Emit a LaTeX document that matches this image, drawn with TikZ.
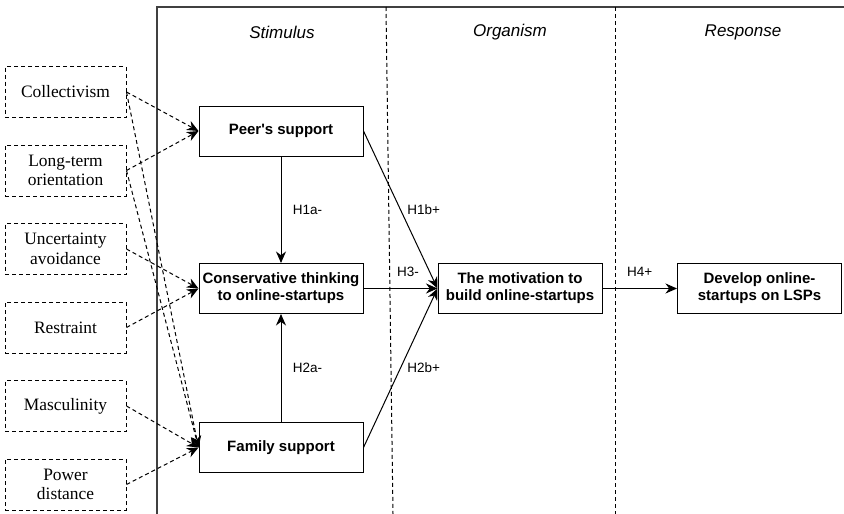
\documentclass[tikz,border=0pt]{standalone}
\usepackage{fontspec}
\setmainfont{Liberation Serif}
\setsansfont{Liberation Sans}
\usetikzlibrary{positioning, arrows.meta}
\tikzstyle{block} = [draw, fill=white, minimum width=164pt,
        minimum height=50pt, align=center,
        font=\sffamily\bfseries\fontsize{15}{17}\selectfont]
\tikzstyle{factor} = [draw, dash pattern=on 4pt off 3pt, minimum width=121pt,
        minimum height=51pt, align=center,
        font=\rmfamily\fontsize{17.4}{19.5}\selectfont]
\tikzset{hyp/.style={font=\sffamily\fontsize{13.5}{15}\selectfont},
    stage/.style={font=\sffamily\itshape\fontsize{17}{19}\selectfont},
    link/.style={->, dash pattern=on 4pt off 3pt}
}

\begin{document}
\begin{tikzpicture}[x=1pt, y=-1pt, line width=1pt,
    >={Stealth[length=11.5pt, width=10pt]}]
    \useasboundingbox (0,0) rectangle (844,514);
    % frame of the three stages
    \draw[line width=1.3pt, black!75] (157,514) -- (157,7) -- (844,7);
    \draw[dash pattern=on 4pt off 3pt] (386,7) -- (393,514);
    \draw[dash pattern=on 4pt off 3pt] (615,7) -- (615,514);
    \node[stage] (stim) at (282,32) {Stimulus};
    \node[stage] (org) at (510,32) {Organism};
    \node[stage] (resp) at (743,32) {Response};

    % cultural dimensions
    \node [factor] at (65.5,92) (coll) {Collectivism};
    \node [factor, below of=coll, node distance=78.5pt] (ltor) {Long-term\\orientation};
    \node [factor, below of=ltor, node distance=78.5pt] (unc) {Uncertainty\\avoidance};
    \node [factor, below of=unc, node distance=78.5pt] (restr) {Restraint};
    \node [factor, below of=restr, node distance=78.5pt] (masc) {Masculinity};
    \node [factor, below of=masc, node distance=78.5pt] (pdist) {Power\\distance};

    \node [block] at (281,131) (peer) {Peer\textquotesingle s support};
    \node [block, below of=peer, node distance=157.5pt] (cons) {Conservative thinking\\to online-startups};
    \node [block, below of=cons, node distance=159pt] (fam) {Family support};
    \node [block, right of=cons, node distance=239pt] (motiv) {The motivation to\\build online-startups};
    \node [block, right of=motiv, node distance=239.5pt] (dev) {Develop online-\\startups on LSPs};

    \draw[link] (coll.east) -- (peer.west);
    \draw[link] (ltor.east) -- (peer.west);
    \draw[link] (coll.east) -- (fam.west);
    \draw[link] (ltor.east) -- (fam.west);
    \draw[link] (unc.east) -- (cons.west);
    \draw[link] (restr.east) -- (cons.west);
    \draw[link] (masc.east) -- (fam.west);
    \draw[link] (pdist.east) -- (fam.west);

    \draw[->] (peer) -- node[hyp, right=8pt] {H1a-} (cons);
    \draw[->] (fam) -- node[hyp, right=8pt] {H2a-} (cons);
    \draw[->] (peer.east) -- node[hyp, right=3pt] {H1b+} (motiv.west);
    \draw[->] (fam.east) -- node[hyp, right=3pt] {H2b+} (motiv.west);
    \draw[->] (cons) -- node[hyp, pos=0.6, above=8pt] {H3-} (motiv);
    \draw[->] (motiv) -- node[hyp, above=8pt] {H4+} (dev);
\end{tikzpicture}
\end{document}
